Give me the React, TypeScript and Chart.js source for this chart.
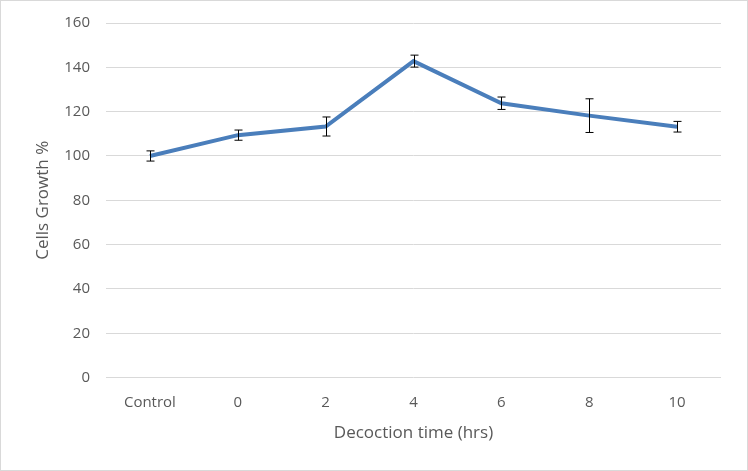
import React, { useEffect, useRef } from "react";
import { Chart, registerables } from "chart.js";

Chart.register(...registerables);

const categories = ["Control", "0", "2", "4", "6", "8", "10"];
const growth = [100, 109.4, 113.3, 142.8, 123.8, 118.2, 113.2];
const errors = [2.3, 2.3, 4.3, 2.7, 2.8, 7.6, 2.4];
const yTicks = [0, 20, 40, 60, 80, 100, 120, 140, 160];

const errorBarPlugin = {
  id: "errorBars",
  afterDatasetsDraw(chart: any) {
    const ctx = chart.ctx;
    const xs = chart.scales.x;
    const ys = chart.scales.y;
    ctx.save();
    ctx.strokeStyle = "#000000";
    ctx.lineWidth = 1;
    growth.forEach((v, i) => {
      const x = Math.round(xs.getPixelForValue(i)) + 0.5;
      const top = ys.getPixelForValue(v + errors[i]);
      const bot = ys.getPixelForValue(v - errors[i]);
      ctx.beginPath();
      ctx.moveTo(x, top);
      ctx.lineTo(x, bot);
      ctx.moveTo(x - 4, top);
      ctx.lineTo(x + 4, top);
      ctx.moveTo(x - 4, bot);
      ctx.lineTo(x + 4, bot);
      ctx.stroke();
    });
    ctx.restore();
  },
};

export default function App() {
  const ref = useRef<HTMLCanvasElement>(null);
  useEffect(() => {
    document.body.style.margin = "0";
    const chart = new Chart(ref.current!, {
      type: "line",
      data: {
        labels: categories,
        datasets: [
          {
            data: growth,
            borderColor: "#4a7ebb",
            borderWidth: 4,
            pointRadius: 0,
            tension: 0,
            fill: false,
          },
        ],
      },
      options: {
        responsive: false,
        animation: false,
        layout: { padding: { top: 22, right: 26, bottom: 23, left: 32 } },
        plugins: { legend: { display: false }, tooltip: { enabled: false } },
        scales: {
          x: {
            offset: true,
            grid: { display: false },
            border: { display: false },
            ticks: {
              color: "#595959",
              font: { family: "'Open Sans', sans-serif", size: 15 },
              padding: 8,
            },
            title: {
              display: true,
              text: "Decoction time (hrs)",
              color: "#595959",
              font: { family: "'Open Sans', sans-serif", size: 17 },
              padding: { top: 3 },
            },
          },
          y: {
            min: 0,
            max: 160,
            afterBuildTicks(scale: any) {
              scale.ticks = yTicks.map((v) => ({ value: v }));
            },
            afterFit(scale: any) {
              scale.width = 73;
              scale.paddingTop = 0;
              scale.paddingBottom = 0;
            },
            grid: { color: "#d9d9d9", drawTicks: false, lineWidth: 1 },
            border: { display: false },
            ticks: {
              color: "#595959",
              font: { family: "'Open Sans', sans-serif", size: 15 },
              padding: 16,
            },
            title: {
              display: true,
              text: "Cells Growth %",
              color: "#595959",
              font: { family: "'Open Sans', sans-serif", size: 17 },
              padding: { top: 0, bottom: 0 },
            },
          },
        },
      },
      plugins: [errorBarPlugin],
    });
    return () => chart.destroy();
  }, []);
  return (
    <div style={{ width: 748, height: 471, boxSizing: "border-box", border: "1px solid #d9d9d9", overflow: "hidden" }}>
      <canvas ref={ref} width={746} height={469} style={{ display: "block" }} />
    </div>
  );
}
